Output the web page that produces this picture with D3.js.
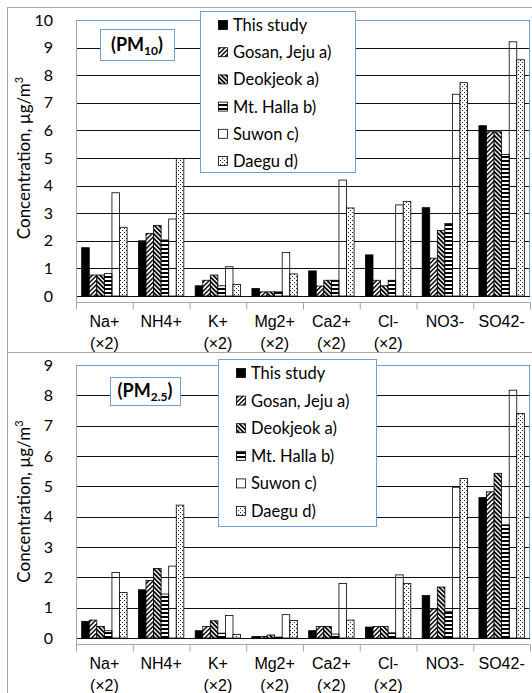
<!DOCTYPE html>
<html><head><meta charset="utf-8">
<script src="https://cdn.jsdelivr.net/npm/d3@7"></script>
<style>
body{margin:0;background:#fff;}
svg{display:block;font-family:Lato,"Open Sans",sans-serif;}
</style></head><body>
<div id="chart"></div>
<script>
// categories (ions) and the second line of their tick labels
const ions = ["Na+", "NH4+", "K+", "Mg2+", "Ca2+", "Cl-", "NO3-", "SO42-"];
const ionNotes = ["(×2)", "", "(×2)", "(×2)", "(×2)", "(×2)", "", ""];
const sites = ["This study", "Gosan, Jeju a)", "Deokjeok a)", "Mt. Halla b)", "Suwon c)", "Daegu d)"];

// PM10 concentrations, µg/m3
const pm10ThisStudy = [1.75, 2.0, 0.37, 0.27, 0.91, 1.49, 3.2, 6.17];
const pm10Gosan     = [0.76, 2.27, 0.57, 0.15, 0.36, 0.57, 1.37, 5.95];
const pm10Deokjeok  = [0.76, 2.56, 0.76, 0.15, 0.57, 0.37, 2.37, 5.95];
const pm10Halla     = [0.81, 2.03, 0.37, 0.15, 0.57, 0.57, 2.63, 5.13];
const pm10Suwon     = [3.74, 2.79, 1.06, 1.58, 4.2, 3.3, 7.31, 9.21];
const pm10Daegu     = [2.49, 4.98, 0.42, 0.8, 3.19, 3.43, 7.73, 8.56];

// PM2.5 concentrations, µg/m3
const pm25ThisStudy = [0.55, 1.59, 0.24, 0.05, 0.24, 0.36, 1.4, 4.63];
const pm25Gosan     = [0.59, 1.9, 0.38, 0.05, 0.38, 0.38, 0.96, 4.82];
const pm25Deokjeok  = [0.38, 2.29, 0.57, 0.1, 0.38, 0.38, 1.68, 5.43];
const pm25Halla     = [0.24, 1.45, 0.16, 0.03, 0.13, 0.17, 0.88, 3.73];
const pm25Suwon     = [2.16, 2.37, 0.74, 0.77, 1.8, 2.08, 4.97, 8.17];
const pm25Daegu     = [1.5, 4.38, 0.12, 0.58, 0.59, 1.8, 5.26, 7.4];

const W = 532, H = 693;
const svg = d3.select("#chart").append("svg").attr("width", W).attr("height", H);

// fill patterns
const defs = svg.append("defs");
function hatch(id, angle, size, lw) {
  const p = defs.append("pattern").attr("id", id)
    .attr("patternUnits", "userSpaceOnUse").attr("width", size).attr("height", size)
    .attr("patternTransform", `rotate(${angle})`);
  p.append("rect").attr("width", size).attr("height", size).attr("fill", "#fff");
  p.append("rect").attr("width", lw).attr("height", size).attr("fill", "#000");
}
hatch("gosan", 45, 3.2, 1.4);
hatch("deok", -45, 3.2, 1.8);
const hp = defs.append("pattern").attr("id", "halla")
  .attr("patternUnits", "userSpaceOnUse").attr("width", 4).attr("height", 4);
hp.append("rect").attr("width", 4).attr("height", 4).attr("fill", "#fff");
hp.append("rect").attr("width", 4).attr("height", 2).attr("fill", "#000");
const dp = defs.append("pattern").attr("id", "dots")
  .attr("patternUnits", "userSpaceOnUse").attr("width", 4).attr("height", 4);
dp.append("rect").attr("width", 4).attr("height", 4).attr("fill", "#fff");
dp.append("rect").attr("x", 0).attr("y", 0).attr("width", 1).attr("height", 1).attr("fill", "#222");
dp.append("rect").attr("x", 2).attr("y", 2).attr("width", 1).attr("height", 1).attr("fill", "#222");

const fills = ["#000", "url(#gosan)", "url(#deok)", "url(#halla)", "none", "url(#dots)"];
const blue = "#6f9fd8";
const gray = "#a6a6a6";

function panel(cfg) {
  const g = svg.append("g");
  // outer frame
  g.append("rect").attr("x", 7.5).attr("y", cfg.frameTop).attr("width", 600).attr("height", cfg.frameH)
    .attr("fill", "none").attr("stroke", gray);

  const left = 76, right = 530;
  const y = d3.scaleLinear().domain([0, cfg.yMax]).range([cfg.bottom, cfg.top]);
  const x0 = d3.scaleBand().domain(ions).range([left, right]).paddingInner(0.2).paddingOuter(0.1);
  const x1 = d3.scaleBand().domain(sites).range([0, x0.bandwidth()]);

  // gridlines
  g.selectAll(".grid").data(y.ticks(cfg.yMax)).enter().append("line")
    .attr("x1", left).attr("x2", right)
    .attr("y1", d => Math.round(y(d)) + 0.5).attr("y2", d => Math.round(y(d)) + 0.5)
    .attr("stroke", "#111").attr("stroke-width", 1);

  // plot frame: blue top/right, gray axes
  g.append("path").attr("d", `M${left},${cfg.top + 0.5}H${right - 0.5}V${cfg.bottom}`)
    .attr("fill", "none").attr("stroke", blue);
  g.append("line").attr("x1", left + 0.5).attr("x2", left + 0.5)
    .attr("y1", cfg.top).attr("y2", cfg.bottom + 6).attr("stroke", gray);

  // bars
  const series = cfg.values.map((vals, k) => ({ site: sites[k], fill: fills[k], vals }));
  series.forEach(s => {
    g.selectAll(null).data(s.vals).enter().append("rect")
      .attr("x", (d, i) => x0(ions[i]) + x1(s.site))
      .attr("y", d => y(d))
      .attr("width", x1.bandwidth())
      .attr("height", d => y(0) - y(d))
      .attr("fill", s.fill)
      .attr("stroke", "#000").attr("stroke-width", 0.8);
  });

  // category axis
  const axY = cfg.bottom + 6.5;
  g.append("line").attr("x1", left).attr("x2", right).attr("y1", axY).attr("y2", axY).attr("stroke", gray);
  g.selectAll(".ctick").data(d3.range(ions.length + 1)).enter().append("line")
    .attr("x1", i => left + 0.5 + i * x0.step()).attr("x2", i => left + 0.5 + i * x0.step())
    .attr("y1", axY).attr("y2", axY + 7).attr("stroke", gray);
  const xAxis = d3.axisBottom(x0).tickSize(0).tickFormat("");
  const xg = g.append("g").attr("transform", `translate(0,${cfg.bottom})`).call(xAxis);
  xg.select(".domain").remove();
  xg.selectAll(".tick").each(function (d, i) {
    const t = d3.select(this).append("text").attr("fill", "#000")
      .attr("text-anchor", "middle").attr("font-size", 16);
    t.append("tspan").attr("x", 0).attr("y", 31).text(d);
    if (ionNotes[i]) t.append("tspan").attr("x", 0).attr("y", 53).text(ionNotes[i]);
  });

  // value axis labels
  const yAxis = d3.axisLeft(y).ticks(cfg.yMax).tickSize(0).tickPadding(23);
  const yg = g.append("g").attr("transform", `translate(${left},0)`).call(yAxis);
  yg.select(".domain").remove();
  yg.selectAll("text").attr("font-size", 16).attr("font-family", "Lato").attr("fill", "#000");

  // value axis title
  const ttl = g.append("text")
    .attr("transform", `translate(30,${(cfg.top + cfg.bottom) / 2}) rotate(-90)`)
    .attr("text-anchor", "middle").attr("font-size", 17);
  ttl.append("tspan").text("Concentration, µg/m");
  ttl.append("tspan").attr("font-size", 11).attr("dy", -7).text("3");

  // legend
  const lg = g.append("g");
  lg.append("rect").attr("x", cfg.legX + 0.5).attr("y", cfg.legY + 0.5)
    .attr("width", cfg.legW).attr("height", cfg.legH).attr("fill", "#fff").attr("stroke", blue);
  series.forEach((s, k) => {
    const cy = cfg.legY + 14 + k * cfg.legStep;
    lg.append("rect").attr("x", cfg.legX + 18.5).attr("y", cy - 4.5).attr("width", 9).attr("height", 9)
      .attr("fill", s.fill === "none" ? "#fff" : s.fill).attr("stroke", "#000").attr("stroke-width", 0.8);
    lg.append("text").attr("x", cfg.legX + 33).attr("y", cy).attr("dy", "0.36em")
      .attr("font-size", 16.5).text(s.site);
  });

  // panel title box
  const tb = g.append("g");
  tb.append("rect").attr("x", cfg.boxX + 0.5).attr("y", cfg.boxY + 0.5).attr("width", cfg.boxW).attr("height", cfg.boxH)
    .attr("fill", "#fff").attr("stroke", blue);
  const tt = tb.append("text").attr("x", cfg.boxX + cfg.boxW / 2).attr("y", cfg.boxY + cfg.boxH / 2)
    .attr("dy", "0.36em").attr("text-anchor", "middle").attr("font-size", 18).attr("font-weight", "bold");
  tt.append("tspan").text("(PM");
  tt.append("tspan").attr("font-size", 12).attr("dy", 4).text(cfg.sub);
  tt.append("tspan").attr("dy", -4).text(")");
}

panel({
  frameTop: 7.5, frameH: 345, top: 20, bottom: 296, yMax: 10,
  values: [pm10ThisStudy, pm10Gosan, pm10Deokjeok, pm10Halla, pm10Suwon, pm10Daegu],
  legX: 200, legY: 11, legW: 155, legH: 161, legStep: 27.2,
  boxX: 100, boxY: 29, boxW: 74, boxH: 31, sub: "10"
});
panel({
  frameTop: 352.5, frameH: 400, top: 365, bottom: 638, yMax: 9,
  values: [pm25ThisStudy, pm25Gosan, pm25Deokjeok, pm25Halla, pm25Suwon, pm25Daegu],
  legX: 218, legY: 359, legW: 158, legH: 167, legStep: 27.6,
  boxX: 110, boxY: 377, boxW: 70, boxH: 28, sub: "2.5"
});
</script>
</body></html>
